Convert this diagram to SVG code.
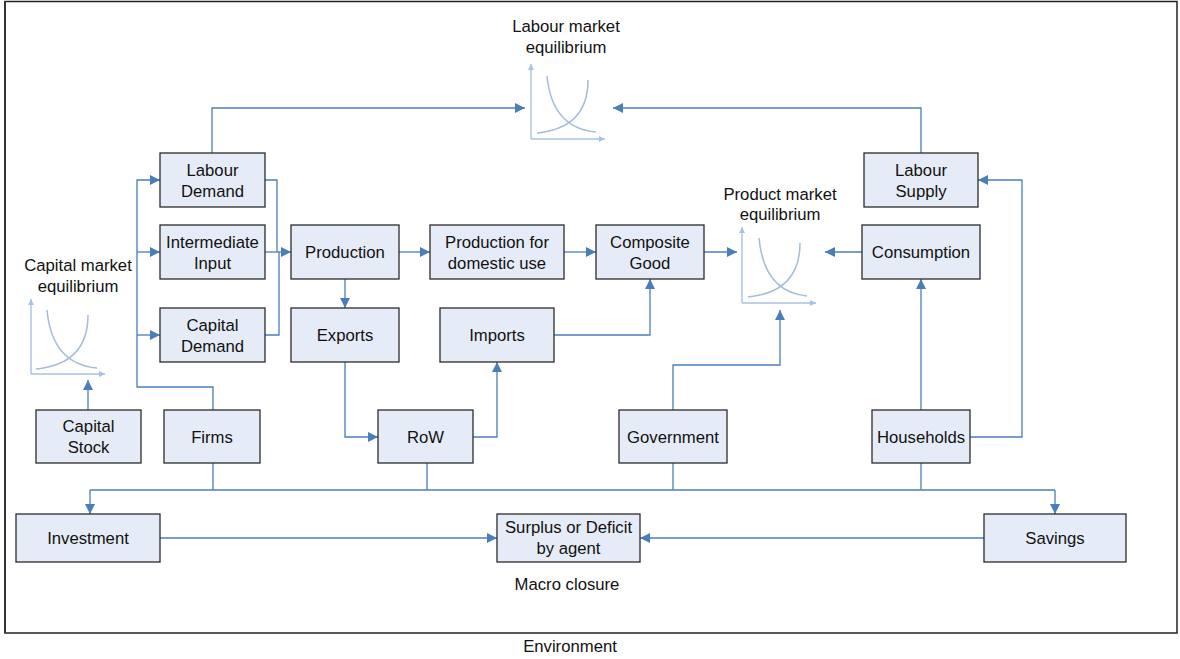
<svg xmlns="http://www.w3.org/2000/svg" width="1180" height="659" viewBox="0 0 1180 659">
  <style>
    .box { fill: #e6ecf7; stroke: #2b2b2b; stroke-width: 1.3; }
    .lbl { font-family: "Liberation Sans", Arial, sans-serif; font-size: 16.7px; fill: #111; text-anchor: middle; }
    .con { fill: none; stroke: #4a7ebb; stroke-width: 1.3; }
    .axis { fill: none; stroke: #a9c1e3; stroke-width: 1.4; }
    .curve { fill: none; stroke: #a3bbdd; stroke-width: 1.5; }
  </style>
  <defs>
    <marker id="arr" markerWidth="12" markerHeight="12" refX="10" refY="5" orient="auto" markerUnits="userSpaceOnUse">
      <path d="M0,0 L10,5 L0,10 Z" fill="#4a7ebb"/>
    </marker>
    <marker id="ax" markerWidth="8" markerHeight="8" refX="6" refY="3" orient="auto" markerUnits="userSpaceOnUse">
      <path d="M0,0 L6,3 L0,6 Z" fill="#a9c1e3"/>
    </marker>
  </defs>

  <rect width="1180" height="659" fill="#ffffff"/>
  <!-- environment frame -->
  <rect x="5" y="1.5" width="1172" height="631.5" fill="none" stroke="#222" stroke-width="1.5"/>
  <line x1="5" y1="1" x2="5" y2="633" stroke="#333" stroke-width="2"/>
  <text class="lbl" x="570" y="652">Environment</text>

  <!-- market equilibrium charts -->
  <g id="labour-market">
    <text class="lbl" x="566" y="32">Labour market</text>
    <text class="lbl" x="566" y="53">equilibrium</text>
    <path class="axis" d="M531,139 V64" marker-end="url(#ax)"/>
    <path class="axis" d="M531,139 H605" marker-end="url(#ax)"/>
    <path class="curve" d="M547,76 Q552,128 596,132"/>
    <path class="curve" d="M537,133 Q588,128 588,80"/>
  </g>
  <g id="capital-market">
    <text class="lbl" x="78" y="271">Capital market</text>
    <text class="lbl" x="78" y="292">equilibrium</text>
    <path class="axis" d="M31,374 V299" marker-end="url(#ax)"/>
    <path class="axis" d="M31,374 H105" marker-end="url(#ax)"/>
    <path class="curve" d="M47,310 Q52,364 97,368"/>
    <path class="curve" d="M36,369 Q88,364 88,315"/>
  </g>
  <g id="product-market">
    <text class="lbl" x="780" y="200">Product market</text>
    <text class="lbl" x="780" y="220">equilibrium</text>
    <path class="axis" d="M742,303 V227" marker-end="url(#ax)"/>
    <path class="axis" d="M742,303 H816" marker-end="url(#ax)"/>
    <path class="curve" d="M759,238 Q764,292 807,296"/>
    <path class="curve" d="M748,297 Q800,292 800,243"/>
  </g>

  <!-- connectors -->
  <g id="connectors">
    <path class="con" d="M212,153 V108 H525" marker-end="url(#arr)"/>
    <path class="con" d="M921,153 V108 H613" marker-end="url(#arr)"/>
    <path class="con" d="M213,410 V387 H137 V180 H160" marker-end="url(#arr)"/>
    <path class="con" d="M137,252 H160" marker-end="url(#arr)"/>
    <path class="con" d="M137,335 H160" marker-end="url(#arr)"/>
    <path class="con" d="M265,180 H277 V252"/>
    <path class="con" d="M265,335 H279 V252"/>
    <path class="con" d="M265,252 H291" marker-end="url(#arr)"/>
    <path class="con" d="M88,410 V380" marker-end="url(#arr)"/>
    <path class="con" d="M399,252 H430" marker-end="url(#arr)"/>
    <path class="con" d="M564,252 H596" marker-end="url(#arr)"/>
    <path class="con" d="M704,252 H737" marker-end="url(#arr)"/>
    <path class="con" d="M862,252 H825" marker-end="url(#arr)"/>
    <path class="con" d="M345,279 V308" marker-end="url(#arr)"/>
    <path class="con" d="M345,362 V437 H378" marker-end="url(#arr)"/>
    <path class="con" d="M473,437 H497 V362" marker-end="url(#arr)"/>
    <path class="con" d="M554,335 H650 V279" marker-end="url(#arr)"/>
    <path class="con" d="M673,410 V365 H780 V310" marker-end="url(#arr)"/>
    <path class="con" d="M921,410 V279" marker-end="url(#arr)"/>
    <path class="con" d="M970,437 H1022 V180 H978" marker-end="url(#arr)"/>
    <path class="con" d="M213,463 V490"/>
    <path class="con" d="M427,463 V490"/>
    <path class="con" d="M673,463 V490"/>
    <path class="con" d="M921,463 V490"/>
    <path class="con" d="M90,490 H1055"/>
    <path class="con" d="M90,490 V514" marker-end="url(#arr)"/>
    <path class="con" d="M1055,490 V514" marker-end="url(#arr)"/>
    <path class="con" d="M160,538 H497" marker-end="url(#arr)"/>
    <path class="con" d="M984,538 H640" marker-end="url(#arr)"/>
  </g>

  <!-- nodes -->
  <g id="labour-demand"><rect class="box" x="160" y="153" width="105" height="54"/><text class="lbl" x="212.5" y="175.5">Labour</text><text class="lbl" x="212.5" y="196.5">Demand</text></g>
  <g id="intermediate-input"><rect class="box" x="160" y="225" width="105" height="54"/><text class="lbl" x="212.5" y="247.5">Intermediate</text><text class="lbl" x="212.5" y="268.5">Input</text></g>
  <g id="capital-demand"><rect class="box" x="160" y="308" width="105" height="54"/><text class="lbl" x="212.5" y="330.5">Capital</text><text class="lbl" x="212.5" y="351.5">Demand</text></g>
  <g id="production"><rect class="box" x="291" y="225" width="108" height="54"/><text class="lbl" x="345" y="258">Production</text></g>
  <g id="exports"><rect class="box" x="291" y="308" width="108" height="54"/><text class="lbl" x="345" y="341">Exports</text></g>
  <g id="production-domestic"><rect class="box" x="430" y="225" width="134" height="54"/><text class="lbl" x="497" y="247.5">Production for</text><text class="lbl" x="497" y="268.5">domestic use</text></g>
  <g id="composite-good"><rect class="box" x="596" y="225" width="108" height="54"/><text class="lbl" x="650" y="247.5">Composite</text><text class="lbl" x="650" y="268.5">Good</text></g>
  <g id="imports"><rect class="box" x="440" y="308" width="114" height="54"/><text class="lbl" x="497" y="341">Imports</text></g>
  <g id="capital-stock"><rect class="box" x="36" y="410" width="105" height="53"/><text class="lbl" x="88.5" y="432">Capital</text><text class="lbl" x="88.5" y="453">Stock</text></g>
  <g id="firms"><rect class="box" x="164" y="410" width="96" height="53"/><text class="lbl" x="212" y="443">Firms</text></g>
  <g id="row"><rect class="box" x="378" y="410" width="95" height="53"/><text class="lbl" x="425.5" y="443">RoW</text></g>
  <g id="government"><rect class="box" x="619" y="410" width="108" height="53"/><text class="lbl" x="673" y="443">Government</text></g>
  <g id="households"><rect class="box" x="872" y="410" width="98" height="53"/><text class="lbl" x="921" y="443">Households</text></g>
  <g id="consumption"><rect class="box" x="862" y="225" width="118" height="54"/><text class="lbl" x="921" y="258">Consumption</text></g>
  <g id="labour-supply"><rect class="box" x="864" y="153" width="114" height="54"/><text class="lbl" x="921" y="175.5">Labour</text><text class="lbl" x="921" y="196.5">Supply</text></g>
  <g id="investment"><rect class="box" x="16" y="514" width="144" height="48"/><text class="lbl" x="88" y="544">Investment</text></g>
  <g id="surplus-deficit"><rect class="box" x="497" y="514" width="143" height="48"/><text class="lbl" x="568.5" y="533">Surplus or Deficit</text><text class="lbl" x="568.5" y="554">by agent</text></g>
  <g id="savings"><rect class="box" x="984" y="514" width="142" height="48"/><text class="lbl" x="1055" y="544">Savings</text></g>

  <text class="lbl" x="567" y="590">Macro closure</text>
</svg>
